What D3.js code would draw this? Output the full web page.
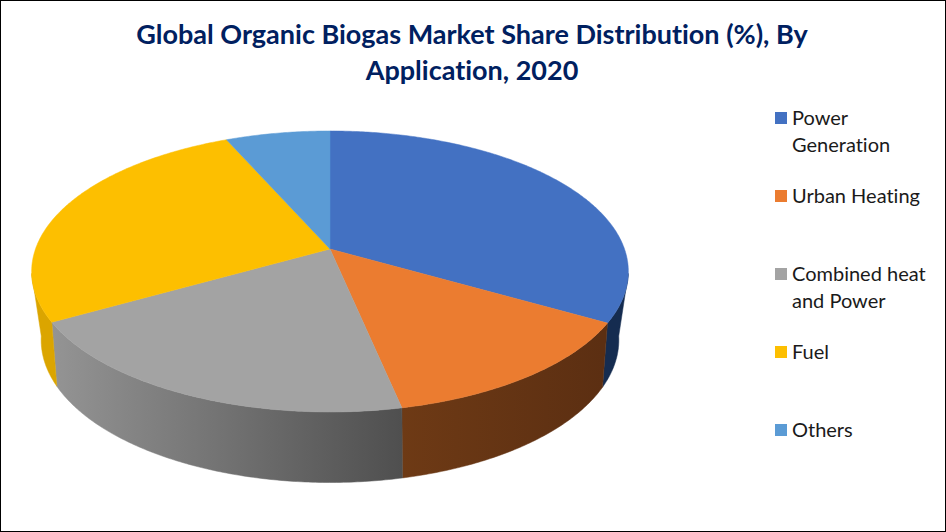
<!DOCTYPE html>
<html>
<head>
<meta charset="utf-8">
<script src="https://cdn.jsdelivr.net/npm/d3@7"></script>
<style>
  html, body { margin: 0; padding: 0; background: #fff; }
  svg { display: block; }
  text { font-family: Lato, "Open Sans", sans-serif; font-variant-ligatures: none; }
</style>
</head>
<body>
<div id="chart"></div>
<script>
const titleLines = ["Global Organic Biogas Market Share Distribution (%), By", "Application, 2020"];
const categories = ["Power Generation", "Urban Heating", "Combined heat and Power", "Fuel", "Others"];
const legendLines = [["Power", "Generation"], ["Urban Heating"], ["Combined heat", "and Power"], ["Fuel"], ["Others"]];
const values = [33.3, 13.4, 20.1, 26.6, 6.6];
const topColors = ["#4371c2", "#eb7c30", "#a3a3a3", "#fdbf00", "#5b9bd5"];

const width = 946, height = 532;

const svg = d3.select("#chart").append("svg")
  .attr("width", width)
  .attr("height", height);

svg.append("rect")
  .attr("x", 0.5).attr("y", 0.5)
  .attr("width", width - 1).attr("height", height - 1)
  .attr("fill", "#fff")
  .attr("stroke", "#000");

// the pie is drawn in perspective, so a unit circle gets projected on two planes
const topPlane = { cx: 330, cy: 249, a: 294.5, b: 136.9, k: 0.16 };
const bottomPlane = { cx: 330, cy: 311.5, a: 283, b: 136.8, k: 0.2 };

function project(plane, angle) {
  const X = Math.sin(angle), Y = -Math.cos(angle);
  const w = 1 - plane.k * Y;
  return [plane.cx + plane.a * X / w, plane.cy + plane.b * Y / w];
}

function arcPoints(plane, a0, a1) {
  const n = Math.max(2, Math.ceil(Math.abs(a1 - a0) / 0.01));
  return d3.range(n + 1).map(i => project(plane, a0 + (a1 - a0) * i / n));
}

const pie = d3.pie().sort(null)(values);
const line = d3.line();

// side walls, only the part turned to the viewer
const wallFrom = (100 / 180) * Math.PI, wallTo = (260 / 180) * Math.PI;
const defs = svg.append("defs");
const wallStops = [
  ["#152c50", "#152c50"],
  ["#6e3a15", "#5c2f12"],
  ["#949494", "#4f4f4f"],
  ["#dba500", "#dba500"],
  ["#3a6b99", "#3a6b99"]
];
const wallRange = [[330, 620], [401, 602], [52, 402], [30, 60], [0, 1]];

wallStops.forEach((stops, i) => {
  const g = defs.append("linearGradient")
    .attr("id", "wall" + i)
    .attr("gradientUnits", "userSpaceOnUse")
    .attr("x1", wallRange[i][0]).attr("y1", 0)
    .attr("x2", wallRange[i][1]).attr("y2", 0);
  g.append("stop").attr("offset", 0).attr("stop-color", stops[0]);
  g.append("stop").attr("offset", 1).attr("stop-color", stops[1]);
});

svg.append("g").selectAll("path")
  .data(pie.filter(d => d.endAngle > wallFrom && d.startAngle < wallTo))
  .join("path")
  .attr("fill", d => "url(#wall" + d.index + ")")
  .attr("stroke", d => "url(#wall" + d.index + ")")
  .attr("stroke-width", 0.5)
  .attr("d", d => {
    const a0 = Math.max(d.startAngle, wallFrom), a1 = Math.min(d.endAngle, wallTo);
    return line(arcPoints(topPlane, a0, a1).concat(arcPoints(bottomPlane, a1, a0))) + "Z";
  });

svg.append("g").selectAll("path")
  .data(pie)
  .join("path")
  .attr("fill", d => topColors[d.index])
  .attr("stroke", d => topColors[d.index])
  .attr("stroke-width", 0.5)
  .attr("d", d => line([[topPlane.cx, topPlane.cy]].concat(arcPoints(topPlane, d.startAngle, d.endAngle))) + "Z");

svg.append("g").selectAll("text")
  .data(titleLines)
  .join("text")
  .attr("x", 472)
  .attr("y", (d, i) => 44 + i * 36)
  .attr("text-anchor", "middle")
  .attr("font-size", 27)
  .attr("font-weight", 700)
  .attr("fill", "#002060")
  .text(d => d);

const legendY = d3.scaleLinear().domain([0, 1]).range([118, 196]);
const legend = svg.append("g").selectAll("g")
  .data(categories)
  .join("g")
  .attr("transform", (d, i) => "translate(775," + legendY(i) + ")");

legend.append("rect")
  .attr("y", -6)
  .attr("width", 12)
  .attr("height", 12)
  .attr("fill", (d, i) => topColors[i]);

legend.each(function (d, i) {
  d3.select(this).selectAll("text")
    .data(legendLines[i])
    .join("text")
    .attr("x", 17)
    .attr("y", (t, j) => 6.6 + j * 27)
    .attr("font-size", 20)
    .attr("fill", "#1a1a1a")
    .text(t => t);
});
</script>
</body>
</html>
